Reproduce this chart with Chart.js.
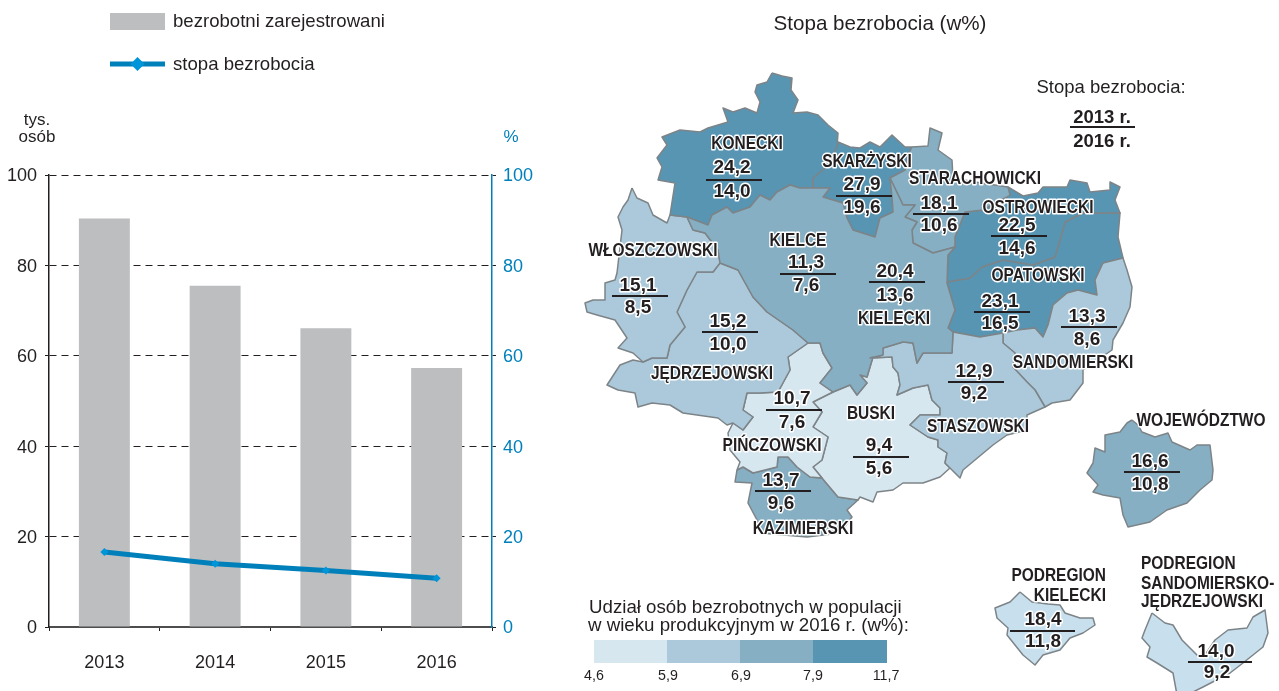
<!DOCTYPE html>
<html lang="pl"><head><meta charset="utf-8">
<style>html,body{margin:0;padding:0;background:#fff;width:1279px;height:691px;overflow:hidden}
canvas{position:absolute;top:0}#a{left:0}#b{left:560px}</style>
<script src="https://cdn.jsdelivr.net/npm/chart.js@4"></script></head><body>
<canvas id="a" width="560" height="691"></canvas><canvas id="b" width="719" height="691"></canvas>
<script>
const years=['2013','2014','2015','2016'];
const registered=[90.4,75.5,66.1,57.3];
const rate=[16.6,14.0,12.5,10.8];
const ticks=[0,20,40,60,80,100];
const legendBreaks=['4,6','5,9','6,9','7,9','11,7'];
const regionNames=['KONECKI','SKARŻYSKI','STARACHOWICKI','OSTROWIECKI','KIELCE','KIELECKI','OPATOWSKI','WŁOSZCZOWSKI','JĘDRZEJOWSKI','SANDOMIERSKI','STASZOWSKI','PIŃCZOWSKI','BUSKI','KAZIMIERSKI','WOJEWÓDZTWO'];
const rate2013=['24,2','27,9','18,1','22,5','11,3','20,4','23,1','15,1','15,2','13,3','12,9','10,7','9,4','13,7','16,6'];
const rate2016=['14,0','19,6','10,6','14,6','7,6','13,6','16,5','8,5','10,0','8,6','9,2','7,6','5,6','9,6','10,8'];
// Map outlines, in the map's own x/y units
const konecki=[772,73,782,76,792,78,791,90,798,100,793,113,807,112,818,115,828,125,838,133,837,147,825,168,813,178,813,188,800,188,790,185,777,192,770,200,760,195,750,207,733,213,727,207,712,215,708,225,687,217,670,215,675,183,658,180,662,167,657,158,667,145,662,137,680,130,700,132,708,128,728,122,723,108,733,112,745,108,757,113,760,102,755,92,757,85,767,82];
const skarzyski=[837,147,838,142,850,147,860,148,870,142,880,147,892,135,905,147,912,147,908,155,905,170,890,178,892,197,893,212,880,218,875,237,853,230,847,218,843,203,823,197,830,188,813,188,813,178,825,168];
const starachowicki=[912,147,928,146,930,128,942,133,938,150,952,160,953,178,975,182,1008,187,1010,195,1007,197,983,210,965,212,955,237,955,247,933,253,913,243,912,230,917,222,905,217,915,205,903,205,890,178,905,170,908,155];
const kielecki=[687,217,708,225,712,215,727,207,733,213,750,207,760,195,770,200,777,192,790,185,800,188,813,188,830,188,823,197,843,203,847,218,853,230,875,237,880,218,893,212,892,197,890,178,903,205,915,205,905,217,917,222,912,230,913,243,933,253,955,247,948,255,947,283,955,310,948,328,953,332,952,353,923,353,917,363,913,343,903,342,883,348,883,355,870,358,873,357,867,377,860,375,867,383,857,395,850,385,833,392,820,383,832,368,823,353,820,343,808,343,793,330,767,312,753,297,738,270,720,263,718,250,705,233,693,230];
const kielce=[798,252,813,247,832,245,837,257,840,263,832,273,830,280,820,290,793,293,788,275,790,273,797,260];
const ostrowiecki=[965,212,983,210,1007,197,1010,195,1008,187,1023,196,1038,193,1043,187,1067,187,1070,180,1087,183,1090,192,1110,190,1110,182,1120,187,1115,200,1120,213,1083,213,1065,222,1062,233,1055,257,1033,265,1003,260,982,267,970,278,947,282,948,255,955,247,955,237];
const opatowski=[947,282,970,278,982,267,1003,260,1033,265,1055,257,1062,233,1065,222,1083,213,1120,213,1118,237,1123,258,1103,263,1095,280,1097,295,1078,290,1067,293,1053,305,1048,325,1043,337,1035,328,1017,330,1003,333,980,337,953,332,948,328,955,310];
const wloszczowski=[632,188,637,198,648,203,653,215,667,223,670,215,687,217,693,230,705,233,718,250,720,263,713,272,697,272,687,290,677,312,685,327,670,345,667,358,652,358,643,362,633,353,618,348,627,338,615,320,597,315,587,312,585,303,593,300,605,300,605,283,615,280,617,273,620,247,622,230,618,217,623,207,628,200];
const jedrzejowski=[697,272,713,272,720,263,738,270,753,297,767,312,793,330,808,343,788,357,790,370,778,392,760,393,747,393,743,410,753,417,743,430,733,423,727,425,718,418,697,415,683,413,670,405,652,403,638,407,635,393,618,390,607,385,620,365,633,360,643,362,652,358,667,358,670,345,685,327,677,312,687,290];
const pinczowski=[808,343,820,343,823,353,832,368,820,383,833,392,813,402,822,412,813,427,828,437,822,460,813,467,822,478,810,477,797,467,788,457,778,457,777,467,753,473,743,467,737,470,740,462,730,450,728,433,733,423,743,430,753,417,743,410,747,393,760,393,778,392,790,370,788,357];
const kazimierski=[737,470,743,467,753,473,777,467,778,457,788,457,797,467,810,477,822,478,838,497,858,500,847,510,852,517,840,533,807,537,760,533,757,520,748,503,752,483,735,482];
const busko=[870,358,892,357,893,367,898,373,900,385,897,395,913,388,928,385,932,400,940,408,940,415,920,415,910,425,928,437,938,440,938,447,947,453,945,463,950,468,940,477,923,483,903,483,893,490,877,492,873,502,860,497,858,500,838,497,822,478,813,467,822,460,828,437,813,427,822,412,813,402,833,392,850,385,857,395,867,383,860,375,867,377,873,357];
const staszowski=[883,355,883,348,903,342,913,343,917,363,923,353,952,353,953,332,980,337,1003,333,1003,343,1015,353,1013,367,1027,382,1035,390,1045,407,1027,415,1027,430,1007,435,993,445,963,470,960,478,950,468,945,463,947,453,938,447,938,440,928,437,910,425,920,415,940,415,940,408,932,400,928,385,913,388,897,395,900,385,898,373,893,367,892,357,870,358];
const sandomierski=[1103,263,1123,258,1127,270,1132,287,1130,307,1123,323,1113,340,1112,350,1083,370,1083,383,1070,400,1052,403,1045,407,1035,390,1027,382,1013,367,1015,353,1003,343,1003,333,1017,330,1035,328,1043,337,1048,325,1053,305,1067,293,1078,290,1097,295,1095,280];
const voivodeship=[1132,420,1138,425,1142,432,1155,437,1168,433,1172,442,1190,450,1197,445,1210,445,1213,470,1212,480,1200,490,1187,503,1167,510,1150,522,1128,527,1123,515,1120,498,1103,495,1093,492,1098,485,1087,473,1093,463,1095,448,1105,452,1105,435,1120,432,1127,423];
const subKielecki=[1020,592,1032,602,1048,604,1060,605,1065,613,1080,618,1093,618,1095,625,1083,633,1070,638,1060,650,1043,655,1035,665,1023,655,1007,635,1008,628,997,618,995,608,1010,602];
const subSandomierz=[1152,613,1165,623,1173,625,1182,640,1197,655,1205,655,1215,640,1228,630,1247,628,1253,617,1265,610,1268,633,1263,647,1243,663,1230,673,1203,687,1187,695,1177,695,1173,673,1157,663,1147,657,1150,647,1142,638,1145,630];
const legendCells=[[594,640,667,663],[667,640,740,663],[740,640,813,663],[813,640,887,663]];

const C=['#d7e7f0','#abc9da','#86afc3','#5895b3'],SUB='#c8e0ee',EDGE='#7d8488',INK='#231f20',BLUE='#0080bb';
const FONT='"Liberation Sans",Arial,sans-serif';
const pts=a=>{const r=[];for(let i=0;i<a.length;i+=2)r.push({x:a[i],y:a[i+1]});r.push({x:a[0],y:a[1]});return r};
const poly=(a,fill,edge=EDGE,w=1.5)=>({type:'scatter',showLine:true,data:pts(a),fill:'shape',backgroundColor:fill,borderColor:edge,borderWidth:w,pointRadius:0,tension:0,borderJoinStyle:'round'});

new Chart(document.getElementById('a'),{
 data:{labels:years,datasets:[
  {type:'line',label:'stopa bezrobocia',data:rate,yAxisID:'y1',borderColor:BLUE,borderWidth:5,tension:0,pointStyle:'rectRot',pointRadius:4,pointBackgroundColor:'#0095d9',pointBorderWidth:0,order:1,fill:false},
  {type:'bar',label:'bezrobotni zarejestrowani',data:registered,yAxisID:'y',backgroundColor:'#bcbec0',barPercentage:.46,categoryPercentage:1,order:2}]},
 options:{responsive:false,animation:false,devicePixelRatio:1,layout:{padding:{top:175,left:0,right:0,bottom:0}},
  plugins:{legend:{display:false},tooltip:{enabled:false}},
  scales:{
   x:{offset:true,border:{color:'#4d4d4d',width:2},grid:{drawOnChartArea:false,color:INK,tickLength:4},
      ticks:{color:INK,padding:21,maxRotation:0,font:{family:FONT,size:18}},afterFit:s=>{s.height=64}},
   y:{position:'left',min:0,max:100,afterBuildTicks:s=>{s.ticks=ticks.map(v=>({value:v}))},
      border:{color:INK,width:1.5,dash:[7,5],dashOffset:0},grid:{color:INK,lineWidth:1,tickLength:4,tickBorderDash:[]},
      ticks:{color:INK,padding:8,labelOffset:1.5,font:{family:FONT,size:18}},afterFit:s=>{s.width=49}},
   y1:{position:'right',min:0,max:100,afterBuildTicks:s=>{s.ticks=ticks.map(v=>({value:v}))},
      border:{color:BLUE,width:1.5},grid:{drawOnChartArea:false,color:INK,tickLength:4},
      ticks:{color:BLUE,padding:7,labelOffset:1.5,font:{family:FONT,size:18}},afterFit:s=>{s.width=68}}
  }},
 plugins:[{id:'extras',afterDraw(c){const x=c.ctx;x.save();
   x.textBaseline='middle';x.font='18.6px '+FONT;x.fillStyle='#bcbec0';x.fillRect(110,13,55,17);
   x.strokeStyle=BLUE;x.lineWidth=5;x.beginPath();x.moveTo(110,64);x.lineTo(165,64);x.stroke();
   x.fillStyle='#0095d9';x.beginPath();x.moveTo(137.5,57);x.lineTo(144.5,64);x.lineTo(137.5,71);x.lineTo(130.5,64);x.closePath();x.fill();
   x.fillStyle=INK;x.textAlign='left';x.fillText('bezrobotni zarejestrowani',173,22);x.fillText('stopa bezrobocia',173,65);
   x.font='17px '+FONT;x.textAlign='center';x.fillText('tys.',37,120);x.fillText('osób',37,137);x.fillStyle=BLUE;x.fillText('%',511,137);x.restore();}}]
});

const mapSets=[
 poly(kielecki,C[2]),poly(kielce,C[2]),poly(konecki,C[3]),poly(starachowicki,C[2]),poly(skarzyski,C[3]),
 poly(wloszczowski,C[1]),poly(jedrzejowski,C[1]),poly(staszowski,C[1]),poly(sandomierski,C[1]),
 poly(pinczowski,C[0]),poly(busko,C[0]),poly(kazimierski,C[2]),poly(ostrowiecki,C[3]),poly(opatowski,C[3]),
 poly(voivodeship,C[2]),poly(subKielecki,SUB),poly(subSandomierz,SUB),
 ...legendCells.map((r,i)=>poly([r[0],r[1],r[2],r[1],r[2],r[3],r[0],r[3]],C[i],C[i],0))
];
// anchors: [name x, name y, value x, 2013 y, rule y, 2016 y]
const anchors=[[747,143,734,167,180,191],[867,161,864,184,196,207],[975,178,941,203,214,225],[1038,207,1019,225,236,248],[798,240,808,262,274,285],[894,318,897,271,282,295],[1038,275,1002,301,312,323],[653,250,640,285,296,307],[712,373,730,321,332,344],[1073,362,1089,316,327,339],[978,426,976,371,382,393],[772,445,794,398,410,422],[871,413,881,445,457,468],[803,528,783,480,491,503],[1201,420,1152,461,472,484]];
new Chart(document.getElementById('b'),{
 type:'scatter',data:{datasets:mapSets},
 options:{responsive:false,animation:false,devicePixelRatio:1,layout:{padding:0},events:[],
  plugins:{legend:{display:false},tooltip:{enabled:false}},
  scales:{x:{type:'linear',display:false,min:560,max:1279},y:{type:'linear',display:false,min:0,max:691,reverse:true}}},
 plugins:[{id:'labels',afterDatasetsDraw(c){const x=c.ctx,sx=c.scales.x,sy=c.scales.y;const X=v=>sx.getPixelForValue(v),Y=v=>sy.getPixelForValue(v);
   x.save();x.lineJoin='round';x.textBaseline='middle';
   const T=(t,a,b,font,al='center',halo=true,k=1)=>{x.font=font;x.textAlign=al;const w=x.measureText(t).width*k;if(halo){x.strokeStyle='#fff';x.lineWidth=3;x.strokeText(t,X(a),Y(b+1),w)}x.fillStyle=INK;x.fillText(t,X(a),Y(b+1),w)};
   const R=(a,b,y,w=2)=>{x.strokeStyle=INK;x.lineWidth=w;x.beginPath();x.moveTo(X(a),Y(y));x.lineTo(X(b),Y(y));x.stroke()};
   const NF='bold 18px '+FONT,VF='bold 19px '+FONT,NK=.86;
   anchors.forEach((p,i)=>{T(regionNames[i],p[0],p[1],NF,'center',true,NK);T(rate2013[i],p[2]-2,p[3],VF);T(rate2016[i],p[2]-2,p[5],VF);R(p[2]-28,p[2]+28,p[4])});
   T('PODREGION',1106,575,NF,'right',false,NK);T('KIELECKI',1106,595,NF,'right',true,NK);
   T('18,4',1043,619,VF);T('11,8',1043,641,VF);R(1010,1075,631);
   T('PODREGION',1141,563,NF,'left',false,NK);T('SANDOMIERSKO-',1141,583,NF,'left',false,NK);T('JĘDRZEJOWSKI',1141,601,NF,'left',true,NK);
   T('14,0',1216,651,VF);T('9,2',1217,672,VF);R(1188,1252,662);
   T('Stopa bezrobocia (w%)',880,23,'20.6px '+FONT,'center',false);
   T('Stopa bezrobocia:',1111,87,'18.5px '+FONT,'center',false);
   T('2013 r.',1102,117,'bold 18.5px '+FONT,'center',false);R(1070,1135,127);T('2016 r.',1102,141,'bold 18.5px '+FONT,'center',false);
   T('Udział osób bezrobotnych w populacji',589,607,'18.7px '+FONT,'left',false);
   T('w wieku produkcyjnym w 2016 r. (w%):',588,625,'18.7px '+FONT,'left',false);
   const lx=[594,668,741,813,886];legendBreaks.forEach((t,i)=>T(t,lx[i],675,'15.5px '+FONT,'center',false,.92));
   x.restore();}}]
});
</script></body></html>
